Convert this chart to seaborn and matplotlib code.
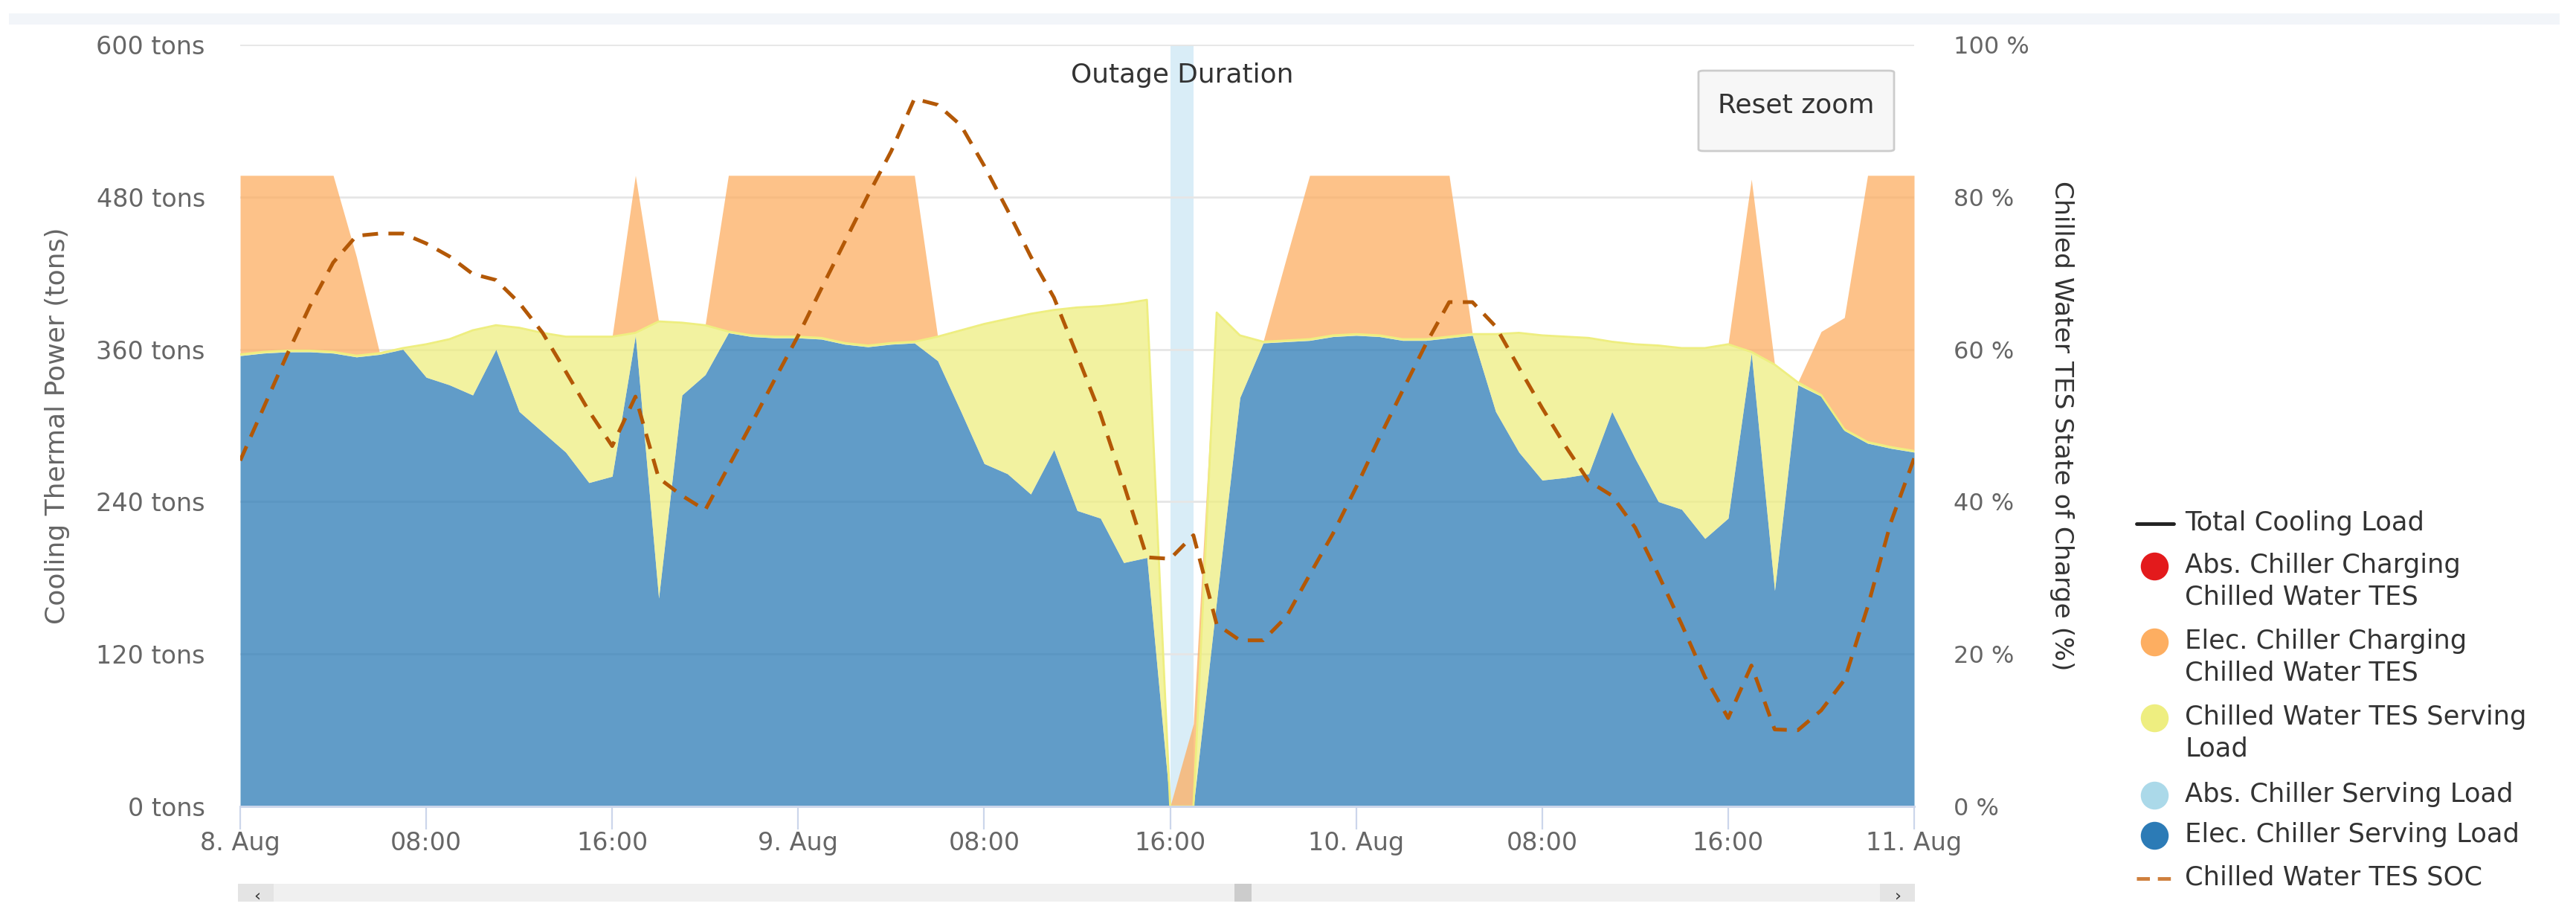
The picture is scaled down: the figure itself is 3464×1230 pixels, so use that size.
import matplotlib
matplotlib.use("Agg")
import matplotlib.pyplot as plt
import numpy as np
import pandas as pd
import seaborn as sns
from matplotlib.lines import Line2D
from matplotlib.patches import FancyBboxPatch, Rectangle

W, H = 3464, 1230
TOP, BOTTOM, LEFT, RIGHT = 60, 1084, 323, 2574

hours = np.arange(73)

elec_serving = [355, 357, 358, 358, 357, 354, 356, 360, 338, 332, 324, 360, 311, 295, 279, 255, 260, 371, 164, 324,
                340, 373, 370, 369, 369, 368, 364, 362, 364, 365, 351, 311, 270, 262, 246, 281, 233, 227, 192, 196,
                0, 0, 162, 322, 365, 366, 367, 370, 371, 370, 367, 367, 369, 371, 311, 279, 257, 259, 262, 311,
                274, 240, 234, 211, 227, 357, 170, 332, 323, 296, 286, 282, 279]
tes_serving = [1, 1, 1, 1, 1, 1, 1, 1, 26, 36, 51, 19, 66, 78, 91, 115, 110, 2, 218, 57,
               39, 1, 1, 1, 1, 1, 1, 1, 1, 1, 19, 64, 110, 122, 142, 110, 160, 167, 204, 203,
               0, 0, 227, 49, 1, 1, 1, 1, 1, 1, 1, 1, 1, 1, 61, 94, 114, 111, 107, 55,
               90, 123, 127, 150, 137, 1, 178, 2, 1, 1, 1, 1, 1]
elec_charging = [141, 139, 138, 138, 139, 78, 0, 0, 0, 0, 0, 0, 0, 0, 0, 0, 0, 124, 0, 0,
                 0, 123, 126, 127, 127, 128, 132, 134, 132, 131, 0, 0, 0, 0, 0, 0, 0, 0, 0, 0,
                 0, 65, 0, 0, 0, 65, 129, 126, 125, 126, 129, 129, 127, 0, 0, 0, 0, 0, 0, 0,
                 0, 0, 0, 0, 0, 136, 0, 0, 50, 88, 210, 214, 217]
tes_soc = [45.4, 52.3, 59.2, 65.7, 71.4, 74.9, 75.2, 75.2, 73.9, 72.2, 69.9, 69.1, 66.1, 62.2, 57.1, 51.9, 47.3, 53.8,
           43.1, 40.8, 38.9, 44.6, 50.3, 56.1, 61.8, 68.0, 74.1, 80.2, 86.0, 92.9, 92.1, 89.4, 84.1, 78.3, 72.2, 66.8,
           59.2, 51.5, 42.3, 32.7, 32.5, 35.6, 23.9, 21.8, 21.8, 24.9, 30.4, 35.8, 41.9, 48.4, 54.6, 60.7, 66.2, 66.2,
           63.0, 57.6, 52.3, 47.3, 42.7, 40.8, 36.6, 30.4, 23.9, 17.0, 11.6, 18.5, 10.1, 10.0, 12.6, 16.6, 26.2, 37.3, 45.7]

x_ticks = [0, 8, 16, 24, 32, 40, 48, 56, 64, 72]
x_labels = ["8. Aug", "08:00", "16:00", "9. Aug", "08:00", "16:00", "10. Aug", "08:00", "16:00", "11. Aug"]
left_ticks = [0, 120, 240, 360, 480, 600]
left_labels = ["0 tons", "120 tons", "240 tons", "360 tons", "480 tons", "600 tons"]
right_ticks = [0, 20, 40, 60, 80, 100]
right_labels = ["0 %", "20 %", "40 %", "60 %", "80 %", "100 %"]
outage = [40, 41]

legend_labels = [
    "Total Cooling Load",
    "Abs. Chiller Charging\nChilled Water TES",
    "Elec. Chiller Charging\nChilled Water TES",
    "Chilled Water TES Serving\nLoad",
    "Abs. Chiller Serving Load",
    "Elec. Chiller Serving Load",
    "Chilled Water TES SOC",
]

BLUE = "#2c7bb6"
LIGHT_BLUE = "#abd9e9"
YELLOW = "#eeee80"
ORANGE = "#fdae61"
RED = "#e31a1c"
SOC_LINE = "#b35806"
SOC_KEY = "#cf7f3c"
GREY = "#666666"
DARK = "#333333"


def _fig_rect(fig, x, y, w, h, color):
    # x, y, w, h in pixels, y measured from the top of the image
    fig.add_artist(Rectangle((x / W, 1 - (y + h) / H), w / W, h / H, transform=fig.transFigure, color=color, lw=0))


def _legend(fig):
    rows = [704, 761, 863, 965, 1069, 1123, 1181]
    keys = [None, RED, ORANGE, YELLOW, LIGHT_BLUE, BLUE, None]
    for y, key, label in zip(rows, keys, legend_labels):
        fig.text(2938 / W, 1 - (y - 18) / H, label, ha="left", va="top", fontsize=25.4, color=DARK, linespacing=1.31)
        if key is not None:
            fig.add_artist(Line2D([2897 / W], [1 - y / H], ls="", marker="o", ms=27, color=key, mew=0))
    yy = [1 - rows[0] / H] * 2
    fig.add_artist(Line2D([2873 / W, 2923 / W], yy, color="#222222", lw=3.5))
    yy = [1 - rows[-1] / H] * 2
    fig.add_artist(Line2D([2873 / W, 2923 / W], yy, color=SOC_KEY, lw=3.5, ls=(0, (3.6, 2.2))))


def main() -> None:
    sns.set_theme(style="white")
    plt.rcParams["font.family"] = ["DejaVu Sans"]

    df = pd.DataFrame({"hour": hours, "elec": elec_serving, "tes": tes_serving, "charging": elec_charging, "soc": tes_soc})
    df["load"] = df["elec"] + df["tes"]
    df["top"] = df["load"] + df["charging"]

    fig = plt.figure(figsize=(W / 100, H / 100), dpi=100)
    ax = fig.add_axes([LEFT / W, 1 - BOTTOM / H, (RIGHT - LEFT) / W, (BOTTOM - TOP) / H])
    ax2 = ax.twinx()

    # page band and the scrollbar under the chart
    _fig_rect(fig, 12, 18, 3430, 15, "#f2f5f9")
    _fig_rect(fig, 320, 1188, 2255, 24, "#f0f0f0")
    _fig_rect(fig, 320, 1188, 48, 24, "#e4e4e4")
    _fig_rect(fig, 2528, 1188, 47, 24, "#e4e4e4")
    _fig_rect(fig, 1660, 1188, 23, 24, "#cccccc")
    fig.text(346 / W, 1 - 1204 / H, "‹", ha="center", va="center", fontsize=16, color=DARK)
    fig.text(2552 / W, 1 - 1204 / H, "›", ha="center", va="center", fontsize=16, color=DARK)

    ax.axvspan(outage[0], outage[1], color="#d9edf7", lw=0, zorder=0)
    ax.set_axisbelow(True)
    ax.grid(axis="y", color="#e6e6e6", lw=2)

    ax.fill_between(df["hour"], 0, df["elec"], color=BLUE, alpha=0.75, lw=0, zorder=2)
    ax.fill_between(df["hour"], df["elec"], df["load"], color=YELLOW, alpha=0.75, lw=0, zorder=2)
    ax.fill_between(df["hour"], df["load"], df["top"], color=ORANGE, alpha=0.75, lw=0, zorder=2)
    sns.lineplot(data=df, x="hour", y="load", ax=ax, color=YELLOW, lw=2, zorder=3, errorbar=None)

    sns.lineplot(data=df, x="hour", y="soc", ax=ax2, color=SOC_LINE, lw=3.6, zorder=5, errorbar=None,
                 linestyle=(0, (4.2, 2.8)))

    ax.set_xlim(0, 72)
    ax.set_ylim(0, 600)
    ax2.set_ylim(0, 100)
    ax.set_xticks(x_ticks, x_labels)
    ax.set_yticks(left_ticks, left_labels)
    ax2.set_yticks(right_ticks, right_labels)
    ax.tick_params(axis="x", length=22, width=1.6, color="#ccd6eb", labelcolor=GREY, labelsize=24, pad=2, bottom=True)
    ax.tick_params(axis="y", length=0, labelcolor=GREY, labelsize=24, pad=34)
    ax2.tick_params(axis="y", length=0, labelcolor=GREY, labelsize=23, pad=38)
    for a in (ax, ax2):
        for side in ("top", "left", "right"):
            a.spines[side].set_visible(False)
        a.spines["bottom"].set_color("#ccd6eb")
        a.spines["bottom"].set_linewidth(2)

    ax.set_xlabel("")
    ax.set_ylabel("Cooling Thermal Power (tons)", fontsize=26, color=GREY, va="center")
    ax.yaxis.set_label_coords((77 - LEFT) / (RIGHT - LEFT), 0.5)
    ax2.set_ylabel("Chilled Water TES State of Charge (%)", fontsize=24.8, color=DARK, rotation=270, va="center")
    ax2.yaxis.set_label_coords((2772 - LEFT) / (RIGHT - LEFT), 0.5)

    fig.text(1590 / W, 1 - 101 / H, "Outage Duration", ha="center", va="center", fontsize=25.8, color=DARK, zorder=8)

    fig.add_artist(FancyBboxPatch((2284 / W, 1 - 203 / H), 263 / W, 108 / H, transform=fig.transFigure,
                                  boxstyle="round,pad=0,rounding_size=0.002", fc="#f7f7f7", ec="#cccccc", lw=2))
    fig.text(2415 / W, 1 - 142 / H, "Reset zoom", ha="center", va="center", fontsize=26, color=DARK)

    _legend(fig)

    fig.savefig("out.png", dpi=100)
    plt.close(fig)


if __name__ == "__main__":
    main()
